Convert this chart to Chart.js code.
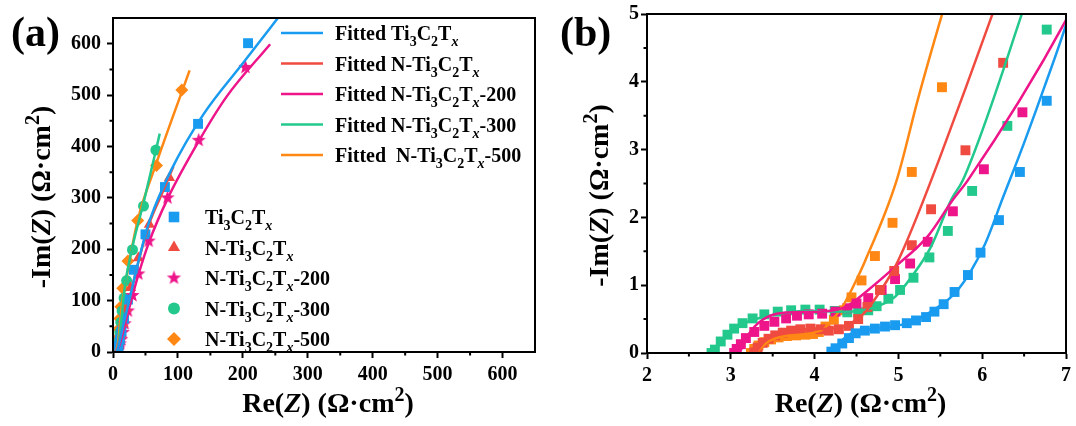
<!DOCTYPE html>
<html>
<head>
<meta charset="utf-8">
<script src="https://cdn.jsdelivr.net/npm/chart.js@4.4.0/dist/chart.umd.min.js"></script>
<style>
    html, body { margin: 0; padding: 0; background: #fff; }
    #wrap { display: flex; width: 1076px; height: 426px; }
    canvas { display: block; }
</style>
</head>
<body>
<div id="wrap">
    <canvas id="chart_a" width="555" height="426"></canvas>
    <canvas id="chart_b" width="521" height="426"></canvas>
</div>
<script>
// names use a small markup: _ subscripts the next char, ^ superscripts it, *..* is italic
var sampleNames = ['Ti_3C_2T_*x*', 'N-Ti_3C_2T_*x*', 'N-Ti_3C_2T_*x*-200', 'N-Ti_3C_2T_*x*-300', 'N-Ti_3C_2T_*x*-500'];
var fitNames = ['Fitted Ti_3C_2T_*x*', 'Fitted N-Ti_3C_2T_*x*', 'Fitted N-Ti_3C_2T_*x*-200', 'Fitted N-Ti_3C_2T_*x*-300', 'Fitted  N-Ti_3C_2T_*x*-500'];
var colors = ['rgb(25, 155, 240)', 'rgb(240, 75, 65)', 'rgb(238, 20, 138)', 'rgb(35, 200, 140)', 'rgb(255, 135, 20)'];

var xTitle = 'Re(*Z*) (\u03A9\u00B7cm^2)';
var yTitle = '-Im(*Z*) (\u03A9\u00B7cm^2)';

var ticksA = [0, 100, 200, 300, 400, 500, 600];
var minorA = [50, 150, 250, 350, 450, 550];
var ticksBx = [2, 3, 4, 5, 6, 7];
var minorBx = [2.5, 3.5, 4.5, 5.5, 6.5];
var ticksBy = [0, 1, 2, 3, 4, 5];
var minorBy = [0.5, 1.5, 2.5, 3.5, 4.5];

// measured impedance, Re(Z) / -Im(Z) in ohm cm2
var tiRe = [4.20, 4.25, 4.33, 4.41, 4.49, 4.60, 4.72, 4.84, 4.96, 5.10, 5.21, 5.33, 5.43, 5.54, 5.67, 5.83, 5.98, 6.20, 6.45, 6.77, 7.3, 8.5, 10.5, 13, 17, 23, 32, 50, 80, 131, 208];
var tiIm = [0.02, 0.07, 0.14, 0.22, 0.29, 0.33, 0.36, 0.39, 0.41, 0.44, 0.48, 0.53, 0.61, 0.72, 0.90, 1.15, 1.48, 1.96, 2.67, 3.72, 6, 12, 24, 40, 65, 102, 160, 229, 321, 444, 601];

var nRe = [3.28, 3.32, 3.38, 3.45, 3.53, 3.62, 3.72, 3.83, 3.95, 4.07, 4.17, 4.29, 4.41, 4.52, 4.63, 4.78, 4.95, 5.16, 5.39, 5.80, 6.25, 7, 8, 9.5, 12, 15, 20, 27, 39, 56, 87];
var nIm = [0.01, 0.08, 0.15, 0.21, 0.26, 0.30, 0.33, 0.35, 0.36, 0.35, 0.33, 0.35, 0.40, 0.50, 0.68, 0.93, 1.21, 1.59, 2.12, 2.99, 4.28, 6.5, 12, 20, 35, 55, 85, 125, 183, 248, 339];

var n200Re = [3.04, 3.07, 3.12, 3.18, 3.28, 3.40, 3.52, 3.66, 3.79, 3.93, 4.09, 4.25, 4.39, 4.50, 4.64, 4.80, 4.96, 5.14, 5.35, 5.65, 6.02, 6.48, 7.1, 8, 9, 10.5, 12.5, 15, 18, 23, 30, 39, 55, 84, 132, 204];
var n200Im = [0.00, 0.06, 0.13, 0.22, 0.31, 0.40, 0.46, 0.51, 0.55, 0.57, 0.58, 0.61, 0.66, 0.73, 0.81, 0.93, 1.09, 1.32, 1.64, 2.09, 2.71, 3.55, 5, 7.5, 11, 16, 24, 38, 55, 80, 110, 152, 216, 300, 412, 554];

var n300Re = [2.77, 2.81, 2.88, 2.96, 3.04, 3.14, 3.26, 3.40, 3.56, 3.72, 3.89, 4.06, 4.24, 4.39, 4.52, 4.64, 4.74, 4.88, 5.02, 5.18, 5.37, 5.59, 5.88, 6.30, 6.77, 7.4, 8.2, 9.2, 10.5, 12, 14, 17, 21, 30, 47, 66];
var n300Im = [0.00, 0.05, 0.17, 0.27, 0.36, 0.44, 0.51, 0.57, 0.61, 0.63, 0.64, 0.64, 0.62, 0.60, 0.60, 0.63, 0.69, 0.80, 0.93, 1.11, 1.41, 1.80, 2.39, 3.35, 4.77, 7, 12, 22, 38, 58, 80, 105, 139, 199, 284, 393];

var n500Re = [3.24, 3.28, 3.33, 3.40, 3.48, 3.57, 3.67, 3.78, 3.89, 3.98, 4.05, 4.13, 4.23, 4.35, 4.44, 4.56, 4.72, 4.93, 5.16, 5.52, 6.2, 7, 8, 9, 10.5, 12, 15, 23, 38, 67, 106];
var n500Im = [0.00, 0.06, 0.11, 0.16, 0.20, 0.23, 0.25, 0.26, 0.27, 0.28, 0.31, 0.39, 0.49, 0.63, 0.82, 1.07, 1.43, 1.92, 2.67, 3.92, 8, 16, 28, 45, 65, 88, 124, 177, 256, 363, 510];

// fitted curves
var tiFitRe = [4.21, 4.29, 4.44, 4.76, 5.16, 5.39, 5.71, 6.02, 6.25, 6.5, 6.75, 7.0, 8, 10, 15, 25, 35, 50, 57, 90, 139, 200, 265];
var tiFitIm = [0.0, 0.14, 0.29, 0.36, 0.46, 0.61, 0.93, 1.57, 2.3, 3.1, 3.95, 4.84, 9, 20, 48, 100, 155, 229, 258, 355, 462, 562, 668];

var nFitRe = [3.30, 3.40, 3.6, 3.9, 4.2, 4.4, 4.6, 4.82, 4.96, 5.08, 5.25, 5.5, 5.8, 6.12, 7, 10, 20, 35, 56, 75, 93];
var nFitIm = [0.0, 0.17, 0.29, 0.35, 0.36, 0.42, 0.6, 0.98, 1.27, 1.59, 2.1, 2.9, 3.9, 4.99, 8, 22, 72, 155, 250, 307, 361];

var n200FitRe = [3.10, 3.14, 3.22, 3.38, 3.61, 4.05, 4.37, 4.64, 4.96, 5.35, 5.65, 5.83, 7.0, 9, 12, 18, 25, 39, 55, 84, 132, 175, 242];
var n200FitIm = [0.0, 0.09, 0.29, 0.49, 0.59, 0.61, 0.68, 0.93, 1.27, 1.72, 2.26, 2.55, 4.91, 10, 22, 52, 86, 150, 212, 298, 410, 497, 599];

var n300FitRe = [2.80, 2.9, 3.05, 3.22, 3.50, 3.89, 4.37, 4.68, 4.96, 5.16, 5.39, 5.63, 5.77, 6.47, 7.5, 9, 11, 14, 18, 30, 47, 72];
var n300FitIm = [0.0, 0.2, 0.37, 0.47, 0.56, 0.62, 0.61, 0.66, 0.83, 1.13, 1.57, 2.26, 2.55, 4.99, 9, 20, 40, 75, 125, 205, 290, 425];

var n500FitRe = [3.30, 3.45, 3.65, 3.9, 4.1, 4.21, 4.33, 4.44, 4.6, 4.98, 5.23, 5.52, 6.5, 8, 10, 14, 20, 38, 67, 118];
var n500FitIm = [0.0, 0.17, 0.25, 0.28, 0.35, 0.49, 0.68, 0.93, 1.35, 2.55, 3.73, 4.99, 9, 20, 45, 95, 140, 256, 368, 548];

var dataRe = [tiRe, nRe, n200Re, n300Re, n500Re];
var dataIm = [tiIm, nIm, n200Im, n300Im, n500Im];
var fitRe = [tiFitRe, nFitRe, n200FitRe, n300FitRe, n500FitRe];
var fitIm = [tiFitIm, nFitIm, n200FitIm, n300FitIm, n500FitIm];

var FONT = '"Liberation Serif", "Times New Roman", serif';

function pts(re, im) {
    return re.map(function (v, i) { return { x: v, y: im[i] }; });
}

function makeStar(color, r) {
    var c = document.createElement('canvas');
    var s = Math.ceil(r * 2) + 2;
    c.width = s; c.height = s;
    var g = c.getContext('2d');
    g.fillStyle = color;
    g.beginPath();
    for (var k = 0; k < 10; k++) {
        var rr = k % 2 ? r * 0.42 : r;
        var ang = -Math.PI / 2 + k * Math.PI / 5;
        g.lineTo(s / 2 + rr * Math.cos(ang), s / 2 + rr * Math.sin(ang));
    }
    g.closePath();
    g.fill();
    return c;
}

function parseRich(str) {
    var segs = [], sub = false, sup = false, ital = false;
    for (var i = 0; i < str.length; i++) {
        var c = str[i];
        if (c === '_') { sub = true; continue; }
        if (c === '^') { sup = true; continue; }
        if (c === '*') { ital = !ital; continue; }
        var last = segs[segs.length - 1];
        if (last && !sub && !sup && !last.sub && !last.sup && last.ital === ital) {
            last.t += c;
        } else {
            segs.push({ t: c, sub: sub, sup: sup, ital: ital });
        }
        sub = false; sup = false;
    }
    return segs;
}

function richFont(s, size) {
    var sz = (s.sub || s.sup) ? Math.round(size * 0.7) : size;
    return (s.ital ? 'italic ' : '') + 'bold ' + sz + 'px ' + FONT;
}

function drawRich(ctx, str, x, y, size, align) {
    var segs = parseRich(str), total = 0;
    segs.forEach(function (s) {
        ctx.font = richFont(s, size);
        s.w = ctx.measureText(s.t).width;
        total += s.w;
    });
    var cx = align === 'center' ? x - total / 2 : x;
    ctx.textAlign = 'left';
    ctx.textBaseline = 'alphabetic';
    segs.forEach(function (s) {
        ctx.font = richFont(s, size);
        var dy = s.sub ? size * 0.3 : (s.sup ? -size * 0.4 : 0);
        ctx.fillText(s.t, cx, y + dy);
        cx += s.w;
    });
}

var panelPlugin = {
    id: 'panel',
    afterDraw: function (chart, args, opts) {
        var ctx = chart.ctx, a = chart.chartArea;
        var xs = chart.scales.x, ys = chart.scales.y;
        ctx.save();
        ctx.strokeStyle = '#000';
        ctx.fillStyle = '#000';
        ctx.lineWidth = 2;
        ctx.strokeRect(a.left, a.top, a.right - a.left, a.bottom - a.top);

        ctx.beginPath();
        opts.minorX.forEach(function (v) {
            var px = xs.getPixelForValue(v);
            ctx.moveTo(px, a.bottom); ctx.lineTo(px, a.bottom + 3.5);
        });
        opts.minorY.forEach(function (v) {
            var py = ys.getPixelForValue(v);
            ctx.moveTo(a.left, py); ctx.lineTo(a.left - 3.5, py);
        });
        ctx.stroke();

        drawRich(ctx, xTitle, (a.left + a.right) / 2 + 4, 412, 28, 'center');
        ctx.save();
        ctx.translate(opts.yTitleX, (a.top + a.bottom) / 2 + 12);
        ctx.rotate(-Math.PI / 2);
        drawRich(ctx, yTitle, 0, 0, 28, 'center');
        ctx.restore();

        ctx.font = 'bold 42px ' + FONT;
        ctx.textAlign = 'left';
        ctx.textBaseline = 'alphabetic';
        ctx.fillText(opts.tag, opts.tagX, 46);

        if (opts.legend) {
            var fits = chart.data.datasets.filter(function (d) { return d.kind === 'fit'; });
            var marks = chart.data.datasets.filter(function (d) { return d.kind === 'data'; });
            fits.forEach(function (d, i) {
                var y = 33 + i * 30.5;
                ctx.strokeStyle = d.borderColor;
                ctx.lineWidth = 2.5;
                ctx.beginPath(); ctx.moveTo(281, y); ctx.lineTo(323, y); ctx.stroke();
                ctx.fillStyle = '#000';
                drawRich(ctx, d.label, 335, y + 7, 20, 'left');
            });
            marks.forEach(function (d, i) {
                var y = 217 + i * 30.5;
                ctx.fillStyle = d.pointBackgroundColor;
                Chart.helpers.drawPoint(ctx, { pointStyle: d.pointStyle, radius: d.pointRadius + 0.5, rotation: 0, borderWidth: 0 }, 174, y);
                ctx.fillStyle = '#000';
                drawRich(ctx, d.label, 205, y + 7, 20, 'left');
            });
        }
        ctx.restore();
    }
};

function getChartJs(panel) {
    var isA = panel === 'a';
    var stylesA = ['rect', 'triangle', makeStar(colors[2], 7.5), 'circle', 'rectRot'];
    var radiiA = [7, 6.5, 7, 5.5, 6.5];
    var datasets = [];

    for (var i = 0; i < 5; i++) {
        datasets.push({
            kind: 'fit',
            label: fitNames[i],
            data: pts(fitRe[i], fitIm[i]),
            showLine: true,
            borderColor: colors[i],
            borderWidth: 2.5,
            pointRadius: 0,
            cubicInterpolationMode: 'monotone'
        });
    }
    for (var j = 0; j < 5; j++) {
        datasets.push({
            kind: 'data',
            label: sampleNames[j],
            data: pts(dataRe[j], dataIm[j]),
            showLine: false,
            pointStyle: isA ? stylesA[j] : 'rect',
            pointRadius: isA ? radiiA[j] : 7,
            pointBackgroundColor: colors[j],
            pointBorderColor: colors[j],
            pointBorderWidth: 0
        });
    }

    var tickFont = { family: FONT, size: 20, weight: 'bold' };
    var gridOpts = { display: true, drawOnChartArea: false, drawTicks: true, tickLength: 6, tickColor: '#000', tickWidth: 2 };
    var borderOpts = { display: true, color: '#000', width: 2 };

    return {
        type: 'scatter',
        data: { datasets: datasets },
        options: {
            responsive: false,
            animation: false,
            events: [],
            layout: { padding: isA ? { left: 43, right: 20, top: 13, bottom: 14 } : { left: 22, right: 7, top: 14, bottom: 13 } },
            scales: {
                x: {
                    type: 'linear',
                    min: isA ? 0 : 2,
                    max: isA ? 650 : 7,
                    afterBuildTicks: function (s) { s.ticks = (isA ? ticksA : ticksBx).map(function (v) { return { value: v }; }); },
                    afterFit: function (s) { s.height = 60; },
                    ticks: { font: tickFont, color: '#000', padding: 5, maxRotation: 0 },
                    grid: gridOpts,
                    border: borderOpts
                },
                y: {
                    type: 'linear',
                    min: 0,
                    max: isA ? 650 : 5,
                    afterBuildTicks: function (s) { s.ticks = (isA ? ticksA : ticksBy).map(function (v) { return { value: v }; }); },
                    afterFit: function (s) { s.width = 70; },
                    ticks: { font: tickFont, color: '#000', padding: isA ? 6 : 2 },
                    grid: gridOpts,
                    border: borderOpts
                }
            },
            plugins: {
                legend: { display: false },
                tooltip: { enabled: false },
                panel: {
                    tag: isA ? '(a)' : '(b)',
                    tagX: isA ? 11 : 5,
                    yTitleX: isA ? 50 : 53,
                    minorX: isA ? minorA : minorBx,
                    minorY: isA ? minorA : minorBy,
                    legend: isA
                }
            }
        },
        plugins: [panelPlugin]
    };
}

new Chart(document.getElementById('chart_a').getContext('2d'), getChartJs('a'));
new Chart(document.getElementById('chart_b').getContext('2d'), getChartJs('b'));
</script>
</body>
</html>
